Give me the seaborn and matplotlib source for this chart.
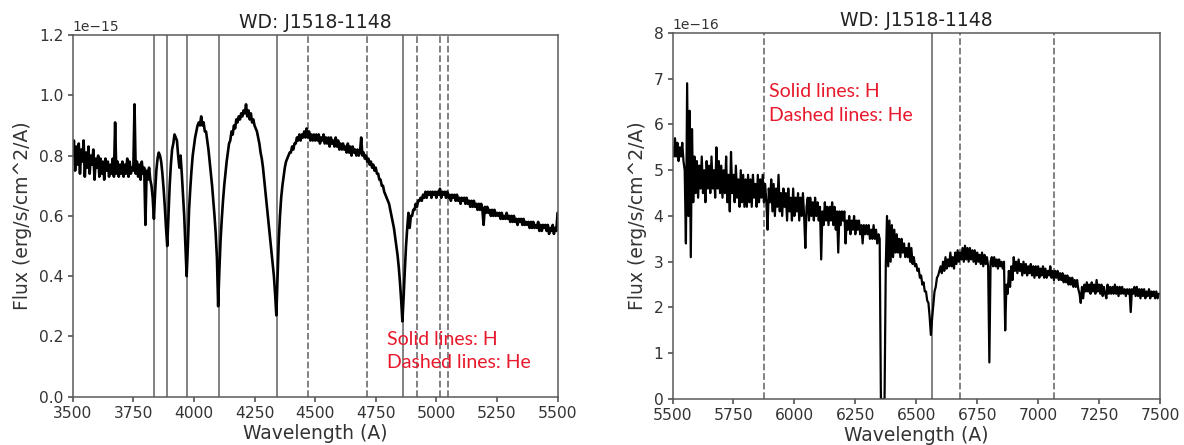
import numpy as np
import pandas as pd
import matplotlib
matplotlib.use("Agg")
import matplotlib.pyplot as plt
import seaborn as sns

# ---------------- data ----------------
title = "WD: J1518-1148"

# Left panel: spectrum sampled every 5 A from 3500 to 5500 A
# flux in units of 1e-15 erg/s/cm^2/A, one row per 100 A
wave_blue = np.arange(3500, 5501, 5)
flux_blue = [
    0.80, 0.85, 0.75, 0.83, 0.77, 0.84, 0.74, 0.82, 0.78, 0.85, 0.73, 0.81, 0.76, 0.83, 0.74, 0.80, 0.77, 0.82, 0.72, 0.79,  # 3500
    0.76, 0.80, 0.73, 0.79, 0.74, 0.78, 0.72, 0.79, 0.75, 0.78, 0.73, 0.77, 0.74, 0.79, 0.73, 0.91, 0.74, 0.78, 0.73, 0.77,  # 3600
    0.74, 0.78, 0.73, 0.77, 0.74, 0.79, 0.73, 0.78, 0.74, 0.76, 0.75, 0.97, 0.74, 0.78, 0.73, 0.77, 0.72, 0.78, 0.74, 0.76,  # 3700
    0.57, 0.75, 0.72, 0.76, 0.72, 0.70, 0.66, 0.59, 0.68, 0.75, 0.79, 0.81, 0.80, 0.78, 0.74, 0.69, 0.63, 0.56, 0.50, 0.60,  # 3800
    0.70, 0.77, 0.82, 0.84, 0.87, 0.86, 0.85, 0.80, 0.76, 0.80, 0.74, 0.67, 0.60, 0.50, 0.40, 0.50, 0.62, 0.69, 0.75, 0.80,  # 3900
    0.83, 0.86, 0.88, 0.90, 0.91, 0.90, 0.93, 0.90, 0.91, 0.88, 0.88, 0.85, 0.82, 0.78, 0.74, 0.70, 0.65, 0.60, 0.54, 0.46,  # 4000
    0.30, 0.42, 0.52, 0.59, 0.65, 0.70, 0.74, 0.78, 0.81, 0.84, 0.85, 0.88, 0.87, 0.90, 0.89, 0.92, 0.91, 0.93, 0.92, 0.94,  # 4100
    0.93, 0.95, 0.94, 0.97, 0.93, 0.95, 0.92, 0.94, 0.91, 0.92, 0.90, 0.89, 0.88, 0.86, 0.84, 0.81, 0.79, 0.76, 0.72, 0.68,  # 4200
    0.64, 0.60, 0.56, 0.52, 0.48, 0.44, 0.40, 0.34, 0.27, 0.40, 0.52, 0.60, 0.66, 0.70, 0.73, 0.76, 0.78, 0.79, 0.80, 0.81,  # 4300
    0.81, 0.83, 0.82, 0.84, 0.84, 0.86, 0.85, 0.87, 0.85, 0.87, 0.86, 0.88, 0.86, 0.89, 0.86, 0.88, 0.85, 0.87, 0.85, 0.87,  # 4400
    0.85, 0.87, 0.85, 0.87, 0.84, 0.86, 0.85, 0.87, 0.84, 0.86, 0.84, 0.86, 0.83, 0.86, 0.84, 0.85, 0.83, 0.86, 0.83, 0.85,  # 4500
    0.82, 0.84, 0.82, 0.84, 0.82, 0.83, 0.81, 0.84, 0.81, 0.83, 0.80, 0.83, 0.81, 0.82, 0.80, 0.82, 0.80, 0.81, 0.86, 0.80,  # 4600
    0.81, 0.79, 0.80, 0.78, 0.79, 0.77, 0.78, 0.76, 0.77, 0.75, 0.76, 0.74, 0.74, 0.72, 0.72, 0.70, 0.70, 0.68, 0.67, 0.66,  # 4700
    0.65, 0.64, 0.62, 0.60, 0.58, 0.56, 0.53, 0.50, 0.47, 0.43, 0.38, 0.32, 0.25, 0.33, 0.42, 0.50, 0.56, 0.61, 0.56, 0.60,  # 4800
    0.60, 0.62, 0.62, 0.64, 0.63, 0.65, 0.65, 0.66, 0.65, 0.67, 0.66, 0.68, 0.66, 0.68, 0.67, 0.68, 0.66, 0.68, 0.67, 0.68,  # 4900
    0.66, 0.68, 0.67, 0.69, 0.66, 0.68, 0.67, 0.68, 0.66, 0.68, 0.66, 0.67, 0.65, 0.67, 0.66, 0.67, 0.65, 0.67, 0.65, 0.66,  # 5000
    0.64, 0.66, 0.65, 0.66, 0.64, 0.66, 0.64, 0.65, 0.63, 0.65, 0.63, 0.65, 0.63, 0.64, 0.62, 0.64, 0.62, 0.64, 0.62, 0.57,  # 5100
    0.63, 0.61, 0.63, 0.61, 0.62, 0.60, 0.62, 0.60, 0.62, 0.60, 0.61, 0.60, 0.61, 0.59, 0.61, 0.59, 0.60, 0.59, 0.61, 0.59,  # 5200
    0.60, 0.58, 0.60, 0.58, 0.60, 0.58, 0.59, 0.57, 0.59, 0.58, 0.59, 0.57, 0.59, 0.57, 0.58, 0.57, 0.58, 0.56, 0.58, 0.56,  # 5300
    0.58, 0.56, 0.57, 0.56, 0.58, 0.55, 0.57, 0.55, 0.57, 0.56, 0.57, 0.55, 0.57, 0.54, 0.56, 0.55, 0.57, 0.54, 0.56, 0.55,  # 5400
    0.61,  # 5500
]

# Right panel: spectrum sampled every 5 A from 5500 to 7500 A
# flux in units of 1e-16 erg/s/cm^2/A, one row per 100 A
wave_red = np.arange(5500, 7501, 5)
flux_red = [
    5.5, 5.3, 5.7, 5.3, 5.6, 5.2, 5.5, 5.3, 5.6, 5.2, 5.0, 3.4, 6.9, 4.0, 6.3, 3.1, 5.9, 4.3, 5.3, 4.5,  # 5500
    5.2, 4.4, 5.1, 4.6, 5.3, 4.5, 5.0, 4.3, 5.2, 4.6, 5.1, 4.5, 5.3, 4.6, 5.0, 4.4, 5.5, 4.6, 5.2, 4.5,  # 5600
    5.1, 4.4, 5.0, 4.5, 5.3, 4.3, 4.9, 4.1, 5.4, 4.5, 4.9, 4.3, 5.1, 4.4, 4.8, 4.2, 5.0, 4.3, 4.9, 4.2,  # 5700
    4.8, 4.2, 4.9, 4.3, 4.8, 4.2, 4.9, 4.4, 4.7, 4.2, 4.9, 4.3, 4.8, 4.4, 4.9, 4.3, 4.7, 4.3, 3.7, 4.6,  # 5800
    4.3, 4.8, 4.1, 4.7, 4.0, 4.6, 4.2, 4.9, 4.1, 4.5, 4.0, 4.6, 4.2, 4.5, 3.9, 4.6, 4.1, 4.4, 3.9, 4.6,  # 5900
    4.0, 4.4, 4.1, 4.5, 3.9, 4.4, 4.0, 4.5, 4.0, 3.3, 4.2, 4.4, 3.9, 4.4, 4.0, 4.3, 3.9, 4.4, 4.0, 4.3,  # 6000
    3.9, 4.2, 3.05, 4.1, 3.8, 4.3, 3.9, 4.2, 3.8, 4.2, 3.9, 4.3, 3.8, 4.2, 3.7, 4.1, 3.2, 4.1, 3.8, 4.1,  # 6100
    3.9, 4.1, 3.4, 3.9, 3.7, 4.0, 3.6, 3.9, 3.7, 4.0, 3.6, 3.9, 3.7, 3.9, 3.6, 3.8, 3.4, 3.8, 3.6, 3.8,  # 6200
    3.6, 3.8, 3.5, 3.7, 3.5, 3.8, 3.5, 3.7, 3.4, 3.6, 3.5, 0.0, 0.0, 0.0, 0.0, 2.9, 4.0, 2.9, 3.9, 3.0,  # 6300
    3.8, 3.1, 3.7, 3.2, 3.6, 3.2, 3.5, 3.1, 3.5, 3.2, 3.4, 3.1, 3.3, 3.1, 3.4, 3.0, 3.3, 2.95, 3.1, 2.9,  # 6400
    2.95, 2.8, 2.85, 2.65, 2.7, 2.5, 2.55, 2.35, 2.35, 2.15, 2.1, 1.8, 1.4, 1.75, 2.05, 2.35, 2.45, 2.65, 2.7, 2.8,  # 6500
    2.9, 2.75, 3.0, 2.8, 3.1, 2.85, 3.05, 2.9, 3.2, 2.9, 3.1, 2.85, 3.2, 2.95, 3.25, 3.0, 3.2, 3.05, 3.3, 3.0,  # 6600
    3.35, 3.05, 3.3, 3.0, 3.3, 3.05, 3.25, 3.0, 3.25, 2.95, 3.2, 3.0, 3.15, 2.95, 3.2, 2.9, 3.15, 2.95, 3.1, 2.9,  # 6700
    0.8, 3.0, 3.1, 2.9, 3.1, 2.9, 3.05, 2.85, 3.05, 2.9, 3.0, 2.85, 3.0, 1.5, 2.5, 2.3, 2.8, 2.45, 2.9, 2.6,  # 6800
    3.1, 2.8, 3.0, 2.75, 3.05, 2.8, 2.95, 2.7, 3.0, 2.75, 2.95, 2.7, 2.9, 2.75, 2.95, 2.7, 2.9, 2.65, 2.9, 2.7,  # 6900
    2.9, 2.65, 2.85, 2.7, 2.9, 2.65, 2.85, 2.65, 2.8, 2.7, 2.9, 2.65, 2.8, 2.6, 2.8, 2.65, 2.8, 2.6, 2.75, 2.6,  # 7000
    2.75, 2.55, 2.7, 2.55, 2.7, 2.5, 2.65, 2.5, 2.65, 2.45, 2.6, 2.45, 2.6, 2.4, 2.3, 2.1, 2.45, 2.2, 2.5, 2.35,  # 7100
    2.55, 2.35, 2.5, 2.3, 2.55, 2.35, 2.5, 2.3, 2.6, 2.35, 2.5, 2.3, 2.5, 2.25, 2.45, 2.3, 2.2, 2.5, 2.3, 2.45,  # 7200
    2.3, 2.45, 2.3, 2.5, 2.3, 2.45, 2.25, 2.45, 2.3, 2.45, 2.3, 2.4, 2.25, 2.4, 2.3, 2.4, 1.9, 2.4, 2.3, 2.45,  # 7300
    2.25, 2.45, 2.25, 2.4, 2.2, 2.4, 2.25, 2.4, 2.2, 2.35, 2.25, 2.4, 2.2, 2.35, 2.25, 2.35, 2.2, 2.35, 2.2, 2.3,  # 7400
    2.3,  # 7500
]

# Reference line positions (A)
h_lines_blue = [3835, 3889, 3970, 4102, 4341, 4861]
he_lines_blue = [4471, 4713, 4922, 5016, 5048]
h_lines_red = [6563]
he_lines_red = [5876, 6678, 7065]

note = "Solid lines: H\nDashed lines: He"

# ---------------- plotting ----------------
sns.set_theme(style="ticks")
plt.rcParams["font.family"] = ["DejaVu Sans"]
plt.rcParams["axes.edgecolor"] = "#5a5a5a"
plt.rcParams["axes.linewidth"] = 1.1
plt.rcParams["xtick.color"] = "#5a5a5a"
plt.rcParams["ytick.color"] = "#5a5a5a"
plt.rcParams["xtick.labelcolor"] = "#333333"
plt.rcParams["ytick.labelcolor"] = "#333333"

fig = plt.figure(figsize=(11.84, 4.45), dpi=100)
ax1 = fig.add_axes([0.0614, 0.1085, 0.4095, 0.8128])
ax2 = fig.add_axes([0.5680, 0.1034, 0.4117, 0.8225])

df_b = pd.DataFrame({"wave": wave_blue, "flux": np.array(flux_blue) * 1e-15})
df_r = pd.DataFrame({"wave": wave_red, "flux": np.array(flux_red) * 1e-16})

sns.lineplot(data=df_b, x="wave", y="flux", ax=ax1, color="black", lw=1.9,
             estimator=None, sort=False)
sns.lineplot(data=df_r, x="wave", y="flux", ax=ax2, color="black", lw=1.6,
             estimator=None, sort=False)

vcol = "#777777"
for w in h_lines_blue:
    ax1.axvline(w, color=vcol, lw=1.3, ls="-", zorder=1)
for w in he_lines_blue:
    ax1.axvline(w, color=vcol, lw=1.3, ls="--", zorder=1)
for w in h_lines_red:
    ax2.axvline(w, color=vcol, lw=1.3, ls="-", zorder=1)
for w in he_lines_red:
    ax2.axvline(w, color=vcol, lw=1.3, ls="--", zorder=1)

ax1.set_xlim(3500, 5500)
ax1.set_ylim(0, 1.2e-15)
ax1.set_xticks([3500, 3750, 4000, 4250, 4500, 4750, 5000, 5250, 5500])
ax1.set_yticks(np.arange(0, 1.21e-15, 0.2e-15))
ax2.set_xlim(5500, 7500)
ax2.set_ylim(0, 8e-16)
ax2.set_xticks([5500, 5750, 6000, 6250, 6500, 6750, 7000, 7250, 7500])
ax2.set_yticks(np.arange(0, 8.1e-16, 1e-16))

for ax in (ax1, ax2):
    ax.set_title(title, fontsize=13.5, color="#222222", pad=5)
    ax.set_xlabel("Wavelength (A)", fontsize=13.5, color="#333333", labelpad=2)
    ax.set_ylabel("Flux (erg/s/cm^2/A)", fontsize=13.5, color="#333333", labelpad=5)
    ax.tick_params(labelsize=11.2, length=3.5, pad=3)
    ax.yaxis.get_offset_text().set_fontsize(10)
    for s in ax.spines.values():
        s.set_visible(True)

ax1.text(4797, 0.152e-15, note, color="#e8192c", fontsize=14, linespacing=1.45,
         va="center", ha="left", family=["Lato", "DejaVu Sans"])
ax2.text(5896, 6.46e-16, note, color="#e8192c", fontsize=14, linespacing=1.45,
         va="center", ha="left", family=["Lato", "DejaVu Sans"])

fig.savefig("out.png", dpi=100)
